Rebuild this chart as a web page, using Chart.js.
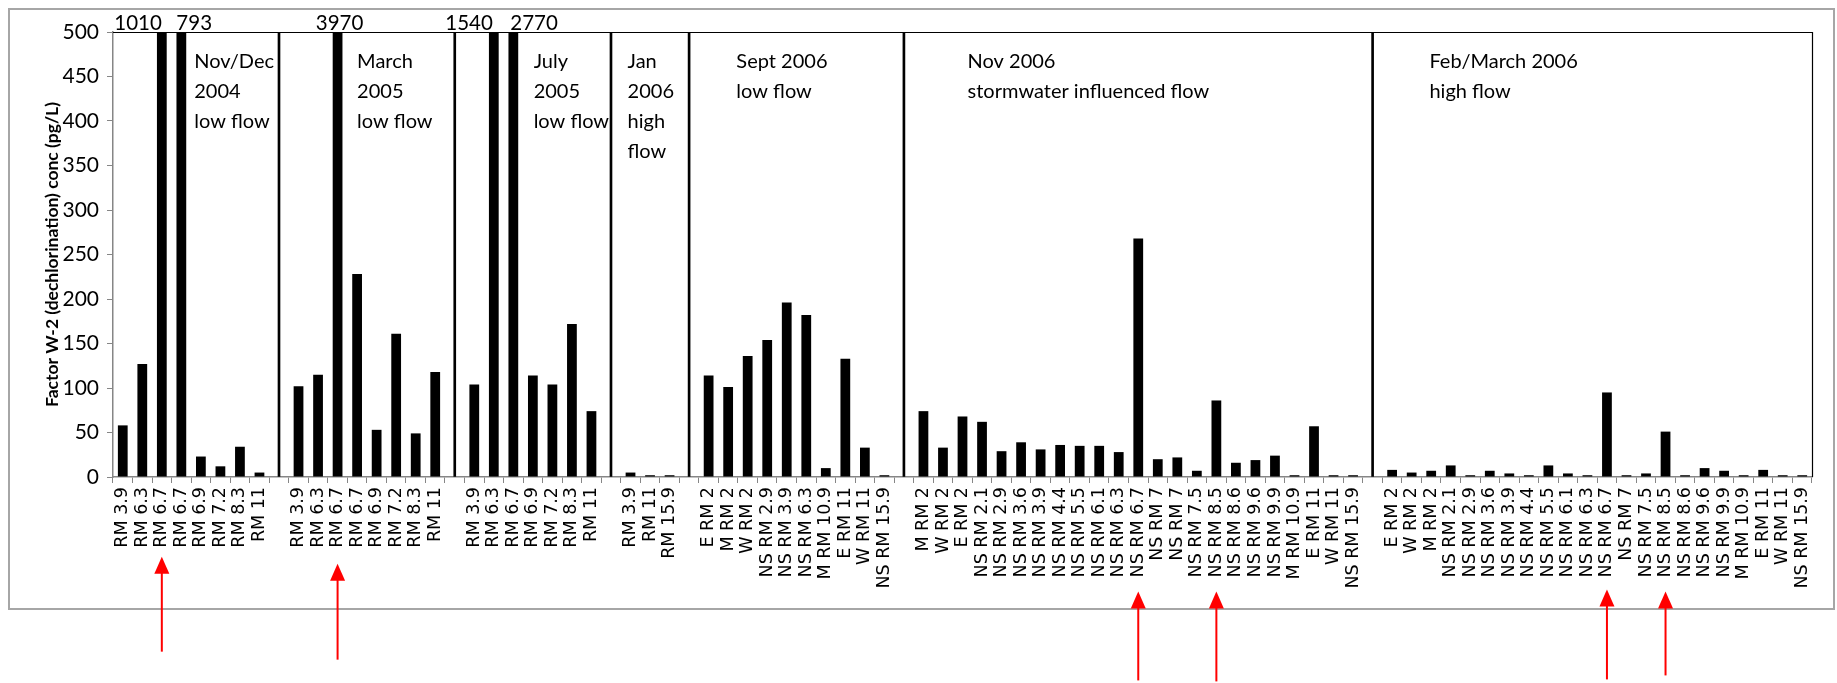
<!DOCTYPE html>
<html>
<head>
<meta charset="utf-8">
<script src="https://cdn.jsdelivr.net/npm/chart.js@4.4.1/dist/chart.umd.min.js"></script>
<style>
html,body{margin:0;padding:0;background:#fff;overflow:hidden}
#wrap{position:relative;width:1837px;height:683px}
</style>
</head>
<body>
<div id="wrap"><canvas id="c" width="1837" height="683"></canvas></div>
<script>
// ---------------- DATA ----------------
const sitesNovDec2004 = ['RM 3.9','RM 6.3','RM 6.7','RM 6.7','RM 6.9','RM 7.2','RM 8.3','RM 11'];
const valuesNovDec2004 = [58, 127, 1010, 793, 23, 12, 34, 5];

const sitesMar2005 = ['RM 3.9','RM 6.3','RM 6.7','RM 6.7','RM 6.9','RM 7.2','RM 8.3','RM 11'];
const valuesMar2005 = [102, 115, 3970, 228, 53, 161, 49, 118];

const sitesJul2005 = ['RM 3.9','RM 6.3','RM 6.7','RM 6.9','RM 7.2','RM 8.3','RM 11'];
const valuesJul2005 = [104, 1540, 2770, 114, 104, 172, 74];

const sitesJan2006 = ['RM 3.9','RM 11','RM 15.9'];
const valuesJan2006 = [5, 2, 2];

const sitesSep2006 = ['E RM 2','M RM 2','W RM 2','NS RM 2.9','NS RM 3.9','NS RM 6.3','M RM 10.9','E RM 11','W RM 11','NS RM 15.9'];
const valuesSep2006 = [114, 101, 136, 154, 196, 182, 10, 133, 33, 2];

const sitesNov2006 = ['M RM 2','W RM 2','E RM 2','NS RM 2.1','NS RM 2.9','NS RM 3.6','NS RM 3.9','NS RM 4.4','NS RM 5.5','NS RM 6.1','NS RM 6.3','NS RM 6.7','NS RM 7','NS RM 7','NS RM 7.5','NS RM 8.5','NS RM 8.6','NS RM 9.6','NS RM 9.9','M RM 10.9','E RM 11','W RM 11','NS RM 15.9'];
const valuesNov2006 = [74, 33, 68, 62, 29, 39, 31, 36, 35, 35, 28, 268, 20, 22, 7, 86, 16, 19, 24, 2, 57, 2, 2];

const sitesFebMar2006 = ['E RM 2','W RM 2','M RM 2','NS RM 2.1','NS RM 2.9','NS RM 3.6','NS RM 3.9','NS RM 4.4','NS RM 5.5','NS RM 6.1','NS RM 6.3','NS RM 6.7','NS RM 7','NS RM 7.5','NS RM 8.5','NS RM 8.6','NS RM 9.6','NS RM 9.9','M RM 10.9','E RM 11','W RM 11','NS RM 15.9'];
const valuesFebMar2006 = [8, 5, 7, 13, 2, 7, 4, 2, 13, 4, 2, 95, 2, 4, 51, 2, 10, 7, 2, 8, 2, 2];

const groupNotes = [
  ['Nov/Dec','2004','low flow'],
  ['March','2005','low flow'],
  ['July','2005','low flow'],
  ['Jan','2006','high','flow'],
  ['Sept 2006','low flow'],
  ['Nov 2006','stormwater influenced flow'],
  ['Feb/March 2006','high flow']
];

const yTickMin = 0, yTickMax = 500, yTickStep = 50;
const yTitle = 'Factor W-2 (dechlorination) conc (pg/L)';

// arrows point at [group, site] labels
const arrowTargets = [[0,2],[1,2],[5,11],[5,15],[6,11],[6,14]];

// ---------------- LAYOUT (not data) ----------------
const noteOffsets = [3.66, 3.0, 3.04, -0.15, 1.42, 2.26, 1.91]; // in category units from group start
const overflowStyle = [
  {align:'right', dx:0}, {align:'left', dx:-5}, {align:'center', dx:2},
  {align:'right', dx:-1}, {align:'left', dx:-3}
];
const arrowGap = [3, 10, 8, 8, 6, 8];
const arrowLen = [95, 96, 89, 90, 90, 84];

// ---------------- BUILD ----------------
const siteGroups = [sitesNovDec2004, sitesMar2005, sitesJul2005, sitesJan2006, sitesSep2006, sitesNov2006, sitesFebMar2006];
const valueGroups = [valuesNovDec2004, valuesMar2005, valuesJul2005, valuesJan2006, valuesSep2006, valuesNov2006, valuesFebMar2006];

const categories = [];
const barValues = [];
const dividerValues = [];
const groupStart = [];
siteGroups.forEach((sites, g) => {
  groupStart.push(categories.length);
  sites.forEach((s, i) => {
    categories.push(s);
    barValues.push(valueGroups[g][i]);
    dividerValues.push(null);
  });
  if (g < siteGroups.length - 1) {
    categories.push('');
    barValues.push(null);
    dividerValues.push(yTickMax);
  }
});

const TICK_FONT = {family: 'DejaVu Sans', size: 17.5};
const LABEL_PAD = 10;

const decor = {
  id: 'decor',
  beforeDraw(chart) {
    const ctx = chart.ctx;
    ctx.save();
    ctx.fillStyle = '#fff';
    ctx.fillRect(0, 0, chart.width, chart.height);
    ctx.strokeStyle = '#a6a6a6';
    ctx.lineWidth = 2;
    ctx.strokeRect(9, 9, 1825, 600);
    ctx.restore();
  },
  afterDatasetsDraw(chart) {
    const ctx = chart.ctx;
    const a = chart.chartArea;
    const xs = chart.scales.x;
    ctx.save();
    // plot frame top & right
    ctx.strokeStyle = '#000';
    ctx.lineWidth = 1.2;
    ctx.beginPath();
    ctx.moveTo(a.left, a.top + 0.5);
    ctx.lineTo(a.right + 0.5, a.top + 0.5);
    ctx.lineTo(a.right + 0.5, a.bottom);
    ctx.stroke();

    // overflow value labels
    ctx.fillStyle = '#000';
    ctx.font = '20.5px Lato';
    ctx.textBaseline = 'middle';
    let k = 0;
    barValues.forEach((v, i) => {
      if (v !== null && v > yTickMax) {
        const st = overflowStyle[k] || {align:'center', dx:0};
        ctx.textAlign = st.align;
        ctx.fillText(String(v), xs.getPixelForValue(i) + st.dx, a.top - 9);
        k++;
      }
    });

    // group notes
    ctx.font = '20px Lato';
    ctx.textAlign = 'left';
    groupNotes.forEach((lines, g) => {
      const x = xs.getPixelForValue(groupStart[g] + noteOffsets[g]);
      lines.forEach((t, j) => {
        ctx.fillText(t, x, a.top + 30 + j * 29.7);
      });
    });

    // red arrows
    ctx.font = TICK_FONT.size + 'px "' + TICK_FONT.family + '"';
    arrowTargets.forEach(([g, s], n) => {
      const idx = groupStart[g] + s;
      const x = xs.getPixelForValue(idx);
      const w = ctx.measureText(categories[idx]).width;
      const tip = a.bottom + 6 + LABEL_PAD + w + arrowGap[n];
      const bottom = tip + arrowLen[n];
      ctx.strokeStyle = '#ff0000';
      ctx.fillStyle = '#ff0000';
      ctx.lineWidth = 2;
      ctx.beginPath();
      ctx.moveTo(x, bottom);
      ctx.lineTo(x, tip + 14);
      ctx.stroke();
      ctx.beginPath();
      ctx.moveTo(x, tip);
      ctx.lineTo(x - 7.5, tip + 17);
      ctx.lineTo(x + 7.5, tip + 17);
      ctx.closePath();
      ctx.fill();
    });
    ctx.restore();
  }
};

new Chart(document.getElementById('c'), {
  type: 'bar',
  data: {
    labels: categories,
    datasets: [
      {
        label: 'Factor W-2',
        data: barValues,
        backgroundColor: '#000',
        borderWidth: 0,
        barPercentage: 0.5,
        categoryPercentage: 1.0,
        grouped: false
      },
      {
        label: 'dividers',
        data: dividerValues,
        backgroundColor: '#000',
        borderWidth: 0,
        barThickness: 2,
        grouped: false
      }
    ]
  },
  options: {
    responsive: false,
    animation: false,
    devicePixelRatio: 1,
    layout: {padding: {top: 32, right: 25, left: 0, bottom: 0}},
    plugins: {legend: {display: false}, tooltip: {enabled: false}},
    scales: {
      x: {
        offset: true,
        grid: {offset: true, drawOnChartArea: false, drawTicks: true, tickLength: 6, color: '#868686', lineWidth: 1},
        border: {display: true, color: '#868686', width: 1.5},
        ticks: {
          autoSkip: false, minRotation: 90, maxRotation: 90,
          padding: 4,
          color: '#000', font: TICK_FONT
        },
        afterFit(scale) { scale.height = 206; }
      },
      y: {
        min: yTickMin, max: yTickMax,
        grid: {drawOnChartArea: false, drawTicks: true, tickLength: 6, color: '#868686'},
        border: {display: true, color: '#868686', width: 1.5},
        ticks: {stepSize: yTickStep, color: '#000', font: {family: 'Lato', size: 21}, padding: 8},
        title: {display: true, text: yTitle, color: '#000', font: {family: 'Lato', size: 17.5, weight: 'bold'}, padding: {top: 42, bottom: 0}},
        afterFit(scale) { scale.width = 113; }
      }
    }
  },
  plugins: [decor]
});
</script>
</body>
</html>
